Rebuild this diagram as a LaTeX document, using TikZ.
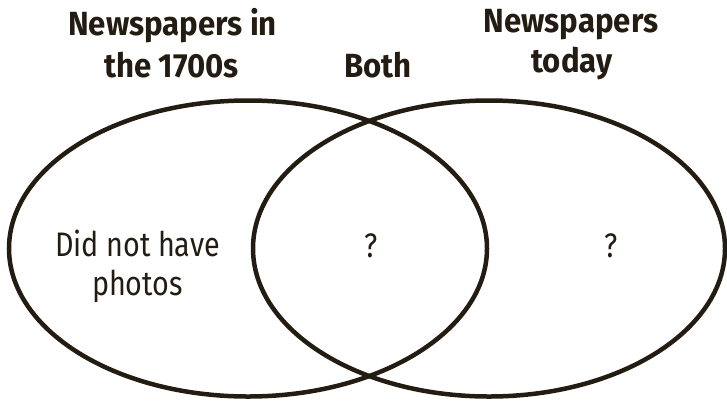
\documentclass[tikz,border=0pt]{standalone}
\usepackage{fontspec}
\setmainfont{Fira Sans}[FakeStretch=0.845]
\newfontfamily\ttlfont{Fira Sans}[FakeStretch=0.93]
\definecolor{ink}{RGB}{35,28,18}
\begin{document}
\begin{tikzpicture}[x=1pt,y=-1pt,
  lbl/.style={anchor=base,inner sep=0pt,text=ink,font=\fontsize{34}{40}\selectfont},
  ttl/.style={lbl,font=\ttlfont\fontsize{33.5}{40}\selectfont\bfseries},
  ring/.style={draw=ink,line width=4.5pt}]
\useasboundingbox (0,0) rectangle (727,402);
\draw[ring] (248,248.5) ellipse [x radius=239pt, y radius=148pt];
\draw[ring] (489,248.5) ellipse [x radius=236pt, y radius=148pt];
\node[ttl] (t1a) at (172.5,35) {Newspapers in};
\node[ttl] (t1b) at (171.5,77) {the 1700s};
\node[ttl] (both) at (378,77) {Both};
\node[ttl] (t2a) at (571,32) {Newspapers};
\node[ttl] (t2b) at (572,72) {today};
\node[lbl] (b1) at (137.5,256) {Did not have};
\node[lbl] (b2) at (137.5,295) {photos};
\node[lbl] (q1) at (371,257) {?};
\node[lbl] (q2) at (611,257) {?};
\end{tikzpicture}
\end{document}
